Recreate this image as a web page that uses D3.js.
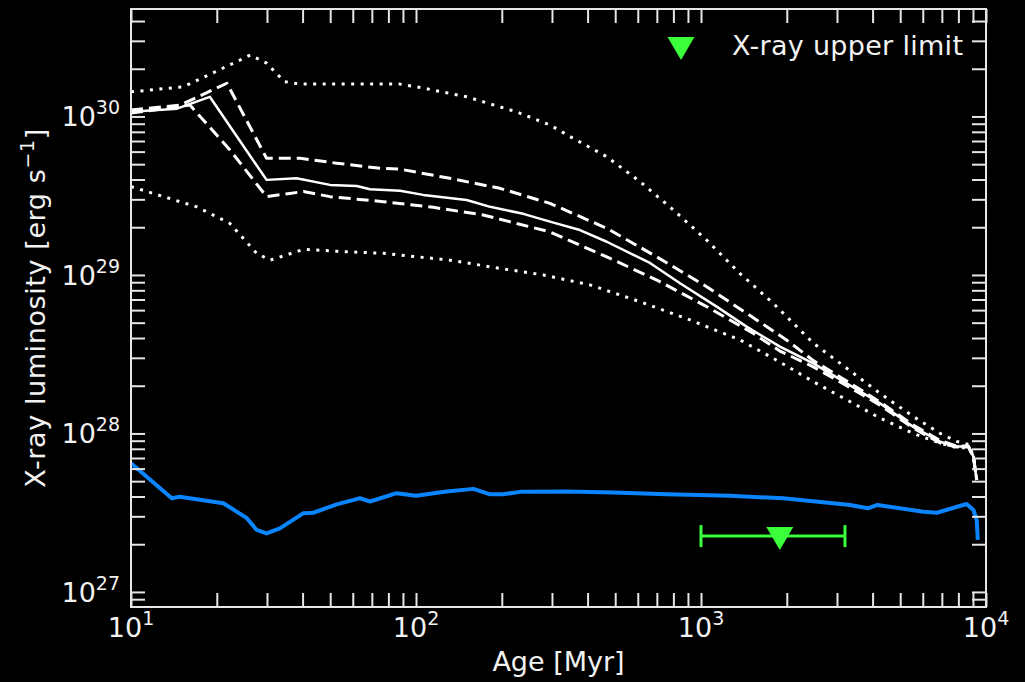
<!DOCTYPE html>
<html>
<head>
<meta charset="utf-8">
<script src="https://cdn.jsdelivr.net/npm/d3@7/dist/d3.min.js"></script>
<style>
  html, body { margin: 0; padding: 0; background: #000; }
  svg { display: block; }
</style>
</head>
<body>
<script>
// ages in Myr, X-ray luminosity in erg/s

// median track (solid)
var ageMedian = [10, 14.5, 18.9, 29.9, 38.1, 49.9, 61.9, 69, 87.9, 106, 150.6, 182, 238, 295, 376, 467, 662, 844, 1135, 1445, 1892, 2479, 3245, 4246, 5557, 6905, 7895, 8676, 9035, 9276];
var lxMedian = [1.07e30, 1.12e30, 1.33e30, 3.98e29, 4.07e29, 3.70e29, 3.64e29, 3.47e29, 3.40e29, 3.20e29, 2.97e29, 2.69e29, 2.43e29, 2.17e29, 1.92e29, 1.62e29, 1.19e29, 8.87e28, 6.31e28, 4.72e28, 3.53e28, 2.77e28, 2.07e28, 1.55e28, 1.10e28, 8.87e27, 8.26e27, 8.26e27, 7.14e27, 5.09e27];

// upper / lower dashed
var ageDashHi = [10, 14.9, 21.7, 29.9, 39.2, 52.7, 74.8, 87.9, 131.5, 197, 295, 467, 700, 1047, 1567, 1995, 2479, 3245, 4246, 5557, 6905, 7895, 8676, 9035, 9276];
var lxDashHi = [1.10e30, 1.18e30, 1.62e30, 5.45e29, 5.45e29, 5.07e29, 4.71e29, 4.65e29, 4.07e29, 3.52e29, 2.83e29, 1.97e29, 1.30e29, 8.43e28, 5.20e28, 3.89e28, 2.88e28, 2.14e28, 1.58e28, 1.13e28, 9.02e27, 8.32e27, 8.32e27, 7.14e27, 5.09e27];
var ageDashLo = [10, 16.1, 22.2, 29.9, 36.1, 40.3, 49.9, 76.7, 115, 172, 295, 467, 700, 1047, 1528, 1892, 2479, 3245, 4246, 5557, 6905, 7895, 8676, 9035, 9276];
var lxDashLo = [1.05e30, 1.18e30, 6.17e29, 3.12e29, 3.27e29, 3.36e29, 3.12e29, 2.90e29, 2.67e29, 2.39e29, 1.87e29, 1.30e29, 9.29e28, 6.31e28, 4.27e28, 3.31e28, 2.63e28, 2.00e28, 1.51e28, 1.08e28, 8.71e27, 8.20e27, 8.20e27, 7.14e27, 5.09e27];

// upper / lower dotted
var ageDotHi = [10, 15.3, 22.9, 26.2, 29.9, 34.5, 39.2, 58.6, 87.9, 106, 150.6, 225, 295, 356, 467, 611, 800, 1047, 1371, 1795, 2479, 3245, 4246, 5557, 6905, 7895, 8676, 9035, 9276];
var lxDotHi = [1.43e30, 1.54e30, 2.17e30, 2.44e30, 2.17e30, 1.66e30, 1.60e30, 1.60e30, 1.60e30, 1.51e30, 1.33e30, 1.07e30, 8.83e29, 7.28e29, 5.57e29, 3.88e29, 2.57e29, 1.66e29, 1.02e29, 6.61e28, 3.71e28, 2.58e28, 1.79e28, 1.28e28, 1.00e28, 8.91e27, 8.51e27, 7.24e27, 5.09e27];
var ageDotLo = [10, 17, 22.2, 27.6, 30.8, 40.3, 57.2, 76.7, 131.5, 197, 280, 408, 611, 915, 1371, 1892, 2479, 3245, 4246, 5557, 6905, 7895, 8676, 9035, 9276];
var lxDotLo = [3.61e29, 2.69e29, 2.12e29, 1.37e29, 1.24e29, 1.45e29, 1.40e29, 1.37e29, 1.24e29, 1.10e29, 1.00e29, 8.65e28, 6.78e28, 5.20e28, 3.89e28, 2.82e28, 2.12e28, 1.63e28, 1.25e28, 1.00e28, 8.67e27, 8.13e27, 8.13e27, 7.14e27, 5.09e27];

// blue track
var ageBlue = [10, 13.9, 14.8, 21.1, 25.5, 27.6, 29.9, 33.3, 40.3, 43.6, 52.7, 61.9, 63.5, 69, 85.5, 100, 128, 159, 182, 202, 232, 338, 492, 759, 1265, 1946, 3336, 3850, 4160, 6030, 6720, 8550, 9035, 9276, 9360];
var lxBlue = [6.49e27, 3.90e27, 3.99e27, 3.63e27, 2.92e27, 2.46e27, 2.34e27, 2.52e27, 3.14e27, 3.16e27, 3.57e27, 3.85e27, 3.90e27, 3.72e27, 4.20e27, 4.04e27, 4.30e27, 4.47e27, 4.13e27, 4.13e27, 4.28e27, 4.30e27, 4.24e27, 4.13e27, 4.04e27, 3.90e27, 3.54e27, 3.37e27, 3.54e27, 3.21e27, 3.16e27, 3.59e27, 3.29e27, 2.84e27, 2.13e27];

// X-ray upper limit with age range
var limitAge = [1890];
var limitAgeMin = [1000];
var limitAgeMax = [3200];
var limitLx = [2.25e27];

var xTickLabels = [1, 2, 3, 4];
var yTickLabels = [27, 28, 29, 30];

var W = 1025, H = 682;
var box = {l: 131, r: 986, t: 9, b: 607};

var svg = d3.select("body").append("svg")
    .attr("width", W)
    .attr("height", H)
    .style("background-color", "#000");

var x = d3.scaleLog().domain([10, 10000]).range([box.l, box.r]);
var y = d3.scaleLog().domain([Math.pow(10, 26.905), Math.pow(10, 30.678)]).range([box.b, box.t]);

var axisColor = "#e6e6e6";
var textColor = "#f2f2f2";
var font = "DejaVu Sans, sans-serif";

// curves
function drawLine(ages, lums, color, width, dash) {
    var pts = ages.map(function(a, i) { return [a, lums[i]]; });
    var line = d3.line()
        .x(function(d) { return x(d[0]); })
        .y(function(d) { return y(d[1]); });
    var p = svg.append("path")
        .datum(pts)
        .attr("d", line)
        .attr("fill", "none")
        .attr("stroke", color)
        .attr("stroke-width", width)
        .attr("stroke-linejoin", "round");
    if (dash) p.attr("stroke-dasharray", dash);
    return p;
}

drawLine(ageDotHi, lxDotHi, "#fff", 3, "3,6.5");
drawLine(ageDotLo, lxDotLo, "#fff", 3, "3,6.5");
drawLine(ageDashHi, lxDashHi, "#fff", 3, "12,6");
drawLine(ageDashLo, lxDashLo, "#fff", 3, "12,6");
drawLine(ageMedian, lxMedian, "#fff", 2.5, null);
drawLine(ageBlue, lxBlue, "#0a84ff", 4, null);

// upper limit
var green = "#3cff3c";
var lim = svg.append("g");
limitAge.forEach(function(a, i) {
    var cy = y(limitLx[i]);
    lim.append("line")
        .attr("x1", x(limitAgeMin[i])).attr("x2", x(limitAgeMax[i]))
        .attr("y1", cy).attr("y2", cy)
        .attr("stroke", green).attr("stroke-width", 3);
    [limitAgeMin[i], limitAgeMax[i]].forEach(function(v) {
        lim.append("line")
            .attr("x1", x(v)).attr("x2", x(v))
            .attr("y1", cy - 11).attr("y2", cy + 11)
            .attr("stroke", green).attr("stroke-width", 3);
    });
    lim.append("path")
        .attr("d", "M-13.5,-10 L13.5,-10 L0,13 Z")
        .attr("transform", "translate(" + x(a) + "," + (cy + 1) + ")")
        .attr("fill", green);
});

// frame
svg.append("rect")
    .attr("x", box.l).attr("y", box.t)
    .attr("width", box.r - box.l).attr("height", box.b - box.t)
    .attr("fill", "none")
    .attr("stroke", axisColor)
    .attr("stroke-width", 2);

// ticks, inward on all four sides
var tl = 14;
function styleAxis(g) {
    g.select(".domain").remove();
    g.selectAll(".tick line").attr("stroke", axisColor).attr("stroke-width", 2);
    g.selectAll(".tick text").remove();
}
var xT = x.ticks();
var yT = y.ticks();
svg.append("g").attr("transform", "translate(0," + box.b + ")")
    .call(d3.axisBottom(x).tickValues(xT).tickSize(-tl)).call(styleAxis);
svg.append("g").attr("transform", "translate(0," + box.t + ")")
    .call(d3.axisTop(x).tickValues(xT).tickSize(-tl)).call(styleAxis);
svg.append("g").attr("transform", "translate(" + box.l + ",0)")
    .call(d3.axisLeft(y).tickValues(yT).tickSize(-tl)).call(styleAxis);
svg.append("g").attr("transform", "translate(" + box.r + ",0)")
    .call(d3.axisRight(y).tickValues(yT).tickSize(-tl)).call(styleAxis);

// tick labels with superscript exponents
xTickLabels.forEach(function(e) {
    var t = svg.append("text")
        .attr("x", x(Math.pow(10, e)))
        .attr("y", box.b + 30)
        .attr("text-anchor", "middle")
        .attr("fill", textColor)
        .style("font-family", font)
        .style("font-size", "27px");
    t.append("tspan").text("10");
    t.append("tspan").attr("dy", -12).style("font-size", "19px").text(e);
});
yTickLabels.forEach(function(e) {
    var t = svg.append("text")
        .attr("x", 120)
        .attr("y", y(Math.pow(10, e)) + 10)
        .attr("text-anchor", "end")
        .attr("fill", textColor)
        .style("font-family", font)
        .style("font-size", "27px");
    t.append("tspan").text("10");
    t.append("tspan").attr("dy", -12).style("font-size", "19px").text(e);
});

// axis titles
svg.append("text")
    .attr("x", (box.l + box.r) / 2)
    .attr("y", 671)
    .attr("text-anchor", "middle")
    .attr("fill", textColor)
    .style("font-family", font)
    .style("font-size", "27px")
    .text("Age [Myr]");

var yl = svg.append("text")
    .attr("transform", "translate(45," + 308 + ") rotate(-90)")
    .attr("text-anchor", "middle")
    .attr("fill", textColor)
    .style("font-family", font)
    .style("font-size", "27px")
    .style("letter-spacing", "0.6px");
yl.append("tspan").text("X-ray luminosity [erg s");
yl.append("tspan").attr("dy", -11).style("font-size", "19px").text("\u22121");
yl.append("tspan").attr("dy", 11).text("]");

// legend
svg.append("path")
    .attr("d", "M-13.5,-11 L13.5,-11 L0,12 Z")
    .attr("transform", "translate(681,48)")
    .attr("fill", green);
svg.append("text")
    .attr("x", 732)
    .attr("y", 55)
    .attr("fill", textColor)
    .style("font-family", font)
    .style("font-size", "27px")
    .style("letter-spacing", "0.3px")
    .text("X-ray upper limit");
</script>
</body>
</html>
